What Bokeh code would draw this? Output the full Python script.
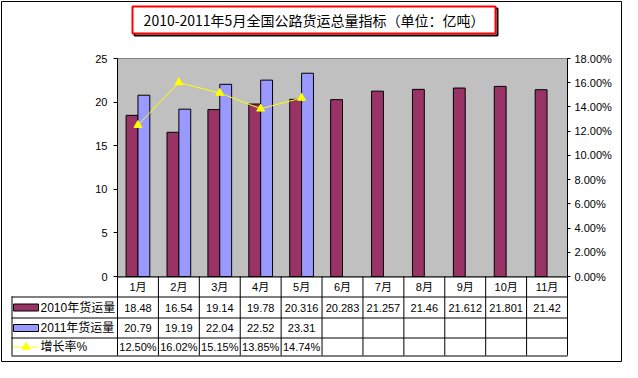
from bokeh.plotting import figure
from bokeh.models import Range1d, LinearAxis, FixedTicker, NumeralTickFormatter
from bokeh.core.properties import value
from bokeh.embed import file_html
from bokeh.resources import INLINE

# ---------------- data ----------------
months = ["1月", "2月", "3月", "4月", "5月", "6月", "7月", "8月", "9月", "10月", "11月"]
freight_2010 = [18.48, 16.54, 19.14, 19.78, 20.316, 20.283, 21.257, 21.46, 21.612, 21.801, 21.42]
freight_2011 = [20.79, 19.19, 22.04, 22.52, 23.31]
growth = [0.1250, 0.1602, 0.1515, 0.1385, 0.1474]
series_names = ["2010年货运量", "2011年货运量", "增长率%"]
left_ticks = [0, 5, 10, 15, 20, 25]
right_ticks = [0.0, 0.02, 0.04, 0.06, 0.08, 0.10, 0.12, 0.14, 0.16, 0.18]
title_text = "2010-2011年5月全国公路货运总量指标（单位：亿吨）"

C2010 = "#993366"
C2011 = "#9999FF"
CLINE = "#FFFF00"
FONT = "Liberation Sans, Noto Sans CJK SC"

# ---------------- layout (canvas pixels) ----------------
W, H = 622, 362
MB = 1
X0, X1 = 117, 567          # plot area left / right
Y0, Y1 = 276, 58           # plot area bottom / top
YMAX = 25.0
PMAX = 0.18
n = len(months)
PX = (X1 - X0) / n
PY = (Y0 - Y1) / YMAX


def ux(px):
    return (px - X0) / PX


def uy(py):
    return (Y0 - py) / PY


ystart, yend = uy(H - MB), uy(MB)
p = figure(width=W, height=H, output_backend="svg", toolbar_location=None,
           x_range=Range1d(ux(MB), ux(W - MB)), y_range=Range1d(ystart, yend),
           x_axis_location=None, y_axis_location=None,
           min_border_left=MB, min_border_right=MB, min_border_top=MB, min_border_bottom=MB)
p.background_fill_color = "white"
p.border_fill_color = "white"
p.outline_line_color = "black"
p.outline_line_width = 1
p.xgrid.visible = False
p.ygrid.visible = False
p.extra_y_ranges = {"pct": Range1d(ystart / YMAX * PMAX, yend / YMAX * PMAX)}

# plot area background
p.quad(left=[0], right=[n], bottom=[0], top=[YMAX], fill_color="#C0C0C0",
       line_color="#808080", line_width=1)

# axes (fixed at the plot-area edges)
ya = LinearAxis(fixed_location=0, ticker=FixedTicker(ticks=left_ticks), bounds=(0, YMAX))
ya.major_tick_out = 4
ya.major_tick_in = 0
ya.minor_tick_line_color = None
ya.axis_line_color = "black"
ya.major_label_text_font = FONT
ya.major_label_text_font_size = "11px"
ya.major_label_text_color = "black"
ya.major_label_standoff = 6
p.add_layout(ya, "left")

yr = LinearAxis(y_range_name="pct", fixed_location=n, ticker=FixedTicker(ticks=right_ticks),
                formatter=NumeralTickFormatter(format="0.00%"), bounds=(0, PMAX))
yr.major_tick_out = 3
yr.major_tick_in = 0
yr.minor_tick_line_color = None
yr.axis_line_color = "black"
yr.major_label_text_font = FONT
yr.major_label_text_font_size = "11px"
yr.major_label_text_color = "black"
yr.major_label_standoff = 4
p.add_layout(yr, "right")

# bars and line
bw = 0.29
xc = [i + 0.5 for i in range(n)]
p.vbar(x=[x - bw / 2 for x in xc], top=freight_2010, width=bw, bottom=0,
       fill_color=C2010, line_color="black", line_width=1)
p.vbar(x=[x + bw / 2 for x in xc[:len(freight_2011)]], top=freight_2011, width=bw, bottom=0,
       fill_color=C2011, line_color="black", line_width=1)
p.line(x=xc[:len(growth)], y=growth, y_range_name="pct", line_color=CLINE, line_width=1)
p.scatter(x=xc[:len(growth)], y=growth, y_range_name="pct", marker="triangle", size=8,
          fill_color=CLINE, line_color=CLINE)

# title box
TL, TR, TT, TB = 132, 495, 6, 33
p.quad(left=[ux(TL + 2)], right=[ux(TR + 2)], top=[uy(TT + 2)], bottom=[uy(TB + 2)],
       fill_color=None, line_color="black", line_width=2)
p.quad(left=[ux(TL)], right=[ux(TR)], top=[uy(TT)], bottom=[uy(TB)],
       fill_color="white", line_color="#FF0000", line_width=2)
p.text(x=[ux((TL + TR) / 2)], y=[uy((TT + TB) / 2)], text=[title_text], text_align="center",
       text_baseline="middle", text_font=value("Noto Sans CJK SC"), text_font_size="14px",
       text_color="black")

# ---------------- data table ----------------
row_px = [276, 296, 317, 337, 355]
row_y = [uy(v) for v in row_px]
tx0 = ux(11)
hx0, hx1, hy = [0], [n], [uy(276.5)]
for v in row_px[1:]:
    hx0.append(tx0); hx1.append(n); hy.append(uy(v + 0.5))
p.segment(x0=hx0, x1=hx1, y0=hy, y1=hy, line_color="black", line_width=1)
vx, vy0, vy1 = [], [], []
for k in range(n + 1):
    vx.append(k); vy0.append(row_y[0]); vy1.append(row_y[-1])
vx.append(ux(11.5)); vy0.append(row_y[1]); vy1.append(row_y[-1])
p.segment(x0=vx, x1=vx, y0=vy0, y1=vy1, line_color="black", line_width=1)


def mid(i):
    return uy((row_px[i] + row_px[i + 1]) / 2 + 0.5)


tstyle = dict(text_align="center", text_baseline="middle", text_font=value(FONT),
              text_font_size="11px", text_color="black")
p.text(x=xc, y=[mid(0)] * n, text=months, **tstyle)
p.text(x=xc, y=[mid(1)] * n, text=[str(v) for v in freight_2010], **tstyle)
p.text(x=xc[:len(freight_2011)], y=[mid(2)] * len(freight_2011),
       text=[str(v) for v in freight_2011], **tstyle)
p.text(x=xc[:len(growth)], y=[mid(3)] * len(growth),
       text=[f"{v * 100:.2f}%" for v in growth], **tstyle)

# legend keys
sw_l, sw_r = ux(13), ux(38)
sw_c = (sw_l + sw_r) / 2
hh = 3.5 / PY
p.quad(left=[sw_l, sw_l], right=[sw_r, sw_r], top=[mid(1) + hh, mid(2) + hh],
       bottom=[mid(1) - hh, mid(2) - hh], fill_color=[C2010, C2011], line_color="black")
p.line(x=[sw_l, sw_r], y=[mid(3), mid(3)], line_color=CLINE, line_width=1)
p.scatter(x=[sw_c], y=[mid(3)], marker="triangle", size=8, fill_color=CLINE, line_color=CLINE)
p.text(x=[ux(40)] * 3, y=[mid(1), mid(2), mid(3)], text=series_names, text_align="left",
       text_baseline="middle", text_font=value(FONT), text_font_size="12px", text_color="black")

open("out.html", "w").write(file_html(p, INLINE))
